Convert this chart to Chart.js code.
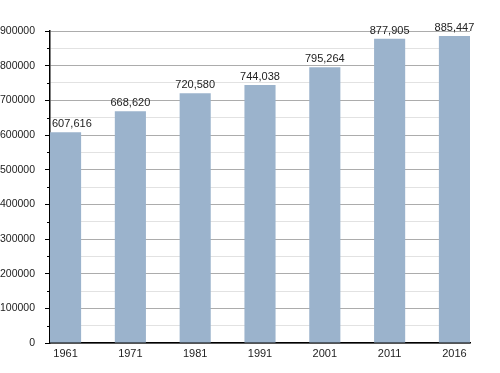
<!DOCTYPE html>
<html><head><meta charset="utf-8">
<script src="https://cdn.jsdelivr.net/npm/chart.js@4/dist/chart.umd.min.js"></script>
<style>html,body{margin:0;padding:0;background:#fff;}#wrap{width:500px;height:373px;}</style>
</head><body><div id="wrap"><canvas id="c" width="500" height="373"></canvas></div>
<script>
const years = ['1961','1971','1981','1991','2001','2011','2016'];
const population = [607616, 668620, 720580, 744038, 795264, 877905, 885447];

const valueLabels = {
  id: 'valueLabels',
  afterDatasetsDraw(chart) {
    const ctx = chart.ctx;
    const meta = chart.getDatasetMeta(0);
    const area = chart.chartArea;
    ctx.save();
    ctx.font = '11px "Liberation Sans", Arial, sans-serif';
    ctx.fillStyle = '#222';
    ctx.textAlign = 'center';
    ctx.textBaseline = 'alphabetic';
    meta.data.forEach((bar, i) => {
      const txt = population[i].toLocaleString('en-US');
      const w = ctx.measureText(txt).width;
      let x = Math.max(bar.x, area.left + w / 2 + 2);
      x = Math.min(x, area.right + 2);
      ctx.fillText(txt, x, bar.y - 5);
    });
    ctx.restore();
  }
};

const minorTicks = {
  id: 'minorTicks',
  afterDraw(chart) {
    const s = chart.scales.y;
    const ctx = chart.ctx;
    ctx.save();
    ctx.strokeStyle = '#000';
    ctx.lineWidth = 1;
    s.ticks.forEach(t => {
      if (t.value % 100000 !== 0) {
        const y = Math.round(s.getPixelForValue(t.value)) + 0.5;
        ctx.beginPath();
        ctx.moveTo(s.right - 3, y);
        ctx.lineTo(s.right, y);
        ctx.stroke();
      }
    });
    ctx.restore();
  }
};

new Chart(document.getElementById('c'), {
  type: 'bar',
  data: {
    datasets: [{
      data: population.map((v, i) => ({x: i, y: v})),
      backgroundColor: '#9bb3cc',
      borderWidth: 0,
      barPercentage: 0.48,
      categoryPercentage: 1
    }]
  },
  options: {
    responsive: false,
    animation: false,
    events: [],
    layout: {padding: {top: 31, right: 30, left: 0, bottom: 0}},
    plugins: {legend: {display: false}, tooltip: {enabled: false}},
    scales: {
      x: {
        type: 'linear',
        min: -0.24,
        max: 6.24,
        offset: false,
        bounds: 'ticks',
        afterFit(s) { s.height = 30; },
        afterBuildTicks(s) { s.ticks = years.map((y, i) => ({value: i})); },
        grid: {display: false, drawTicks: false, offset: false},
        border: {display: true, color: '#000', width: 1.5},
        ticks: {
          autoSkip: false,
          maxRotation: 0,
          padding: 4,
          color: '#222',
          font: {family: '"Liberation Sans", Arial, sans-serif', size: 11},
          callback: (v) => years[v]
        }
      },
      y: {
        min: 0,
        max: 900000,
        afterFit(s) { s.width = 50; },
        grid: {
          color: (c) => (c.tick && c.tick.value % 100000 === 0) ? '#acacac' : '#e2e2e2',
          tickColor: (c) => (c.tick && c.tick.value % 100000 === 0) ? '#000' : 'rgba(0,0,0,0)',
          tickLength: 5,
          drawTicks: true
        },
        border: {display: true, color: '#000', width: 1.5},
        ticks: {
          stepSize: 50000,
          autoSkip: false,
          padding: 10,
          color: '#222',
          font: {family: '"Liberation Sans", Arial, sans-serif', size: 10.5},
          callback: (v) => v % 100000 === 0 ? String(v) : ''
        }
      }
    }
  },
  plugins: [valueLabels, minorTicks]
});
</script>
</body></html>
